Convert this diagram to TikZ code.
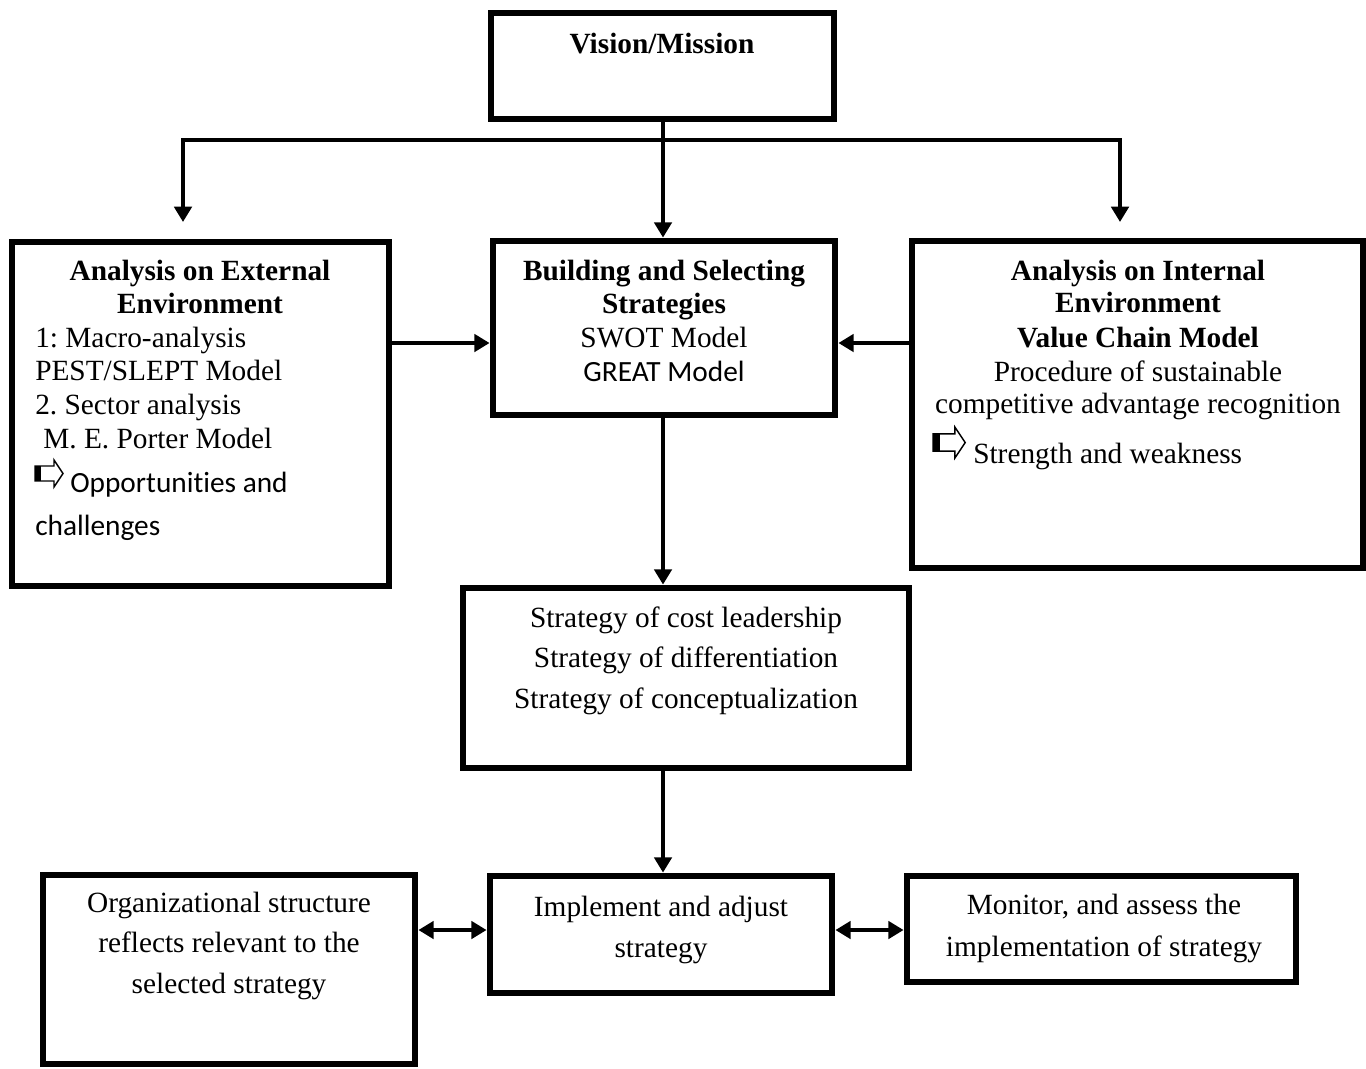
\documentclass[tikz,border=0pt]{standalone}
\usepackage{fontspec}
\setmainfont{Liberation Serif}
\newfontfamily\calibri[Ligatures=NoCommon]{Carlito}
\usetikzlibrary{arrows.meta,fit}
\frenchspacing
\begin{document}
\frenchspacing
\begin{tikzpicture}[x=0.75pt,y=-0.75pt,
  box/.style={draw, line width=5.1pt, inner sep=0pt, line join=miter},
  conn/.style={line width=3.2pt, line join=miter,
    -{Triangle[length=11.5pt 0 0,width=13pt 0 0]}},
  dconn/.style={line width=3.2pt,
    {Triangle[length=11.5pt 0 0,width=13pt 0 0]}-{Triangle[length=11.5pt 0 0,width=13pt 0 0]}},
  tx/.style={inner sep=0pt, anchor=base, font=\fontsize{22}{26}\selectfont},
  tb/.style={tx, font=\fontsize{22}{26}\selectfont\bfseries},
  tl/.style={tx, anchor=base west},
  tc/.style={tx, font=\fontsize{22}{26}\selectfont\calibri},
  hollowarrow/.pic={
    \fill (0,6) rectangle (6,21);
    \draw[line width=1.1pt, line join=miter] (0,6) -- (19,6) -- (19,0) -- (28,13.5) -- (19,27) -- (19,21) -- (0,21) -- cycle;
  }]
\useasboundingbox (0,0) rectangle (1366,1068);

% boxes
\node[box, fit={(491,13) (834,119)}] (vision) {};
\node[box, fit={(12,242) (389,586)}] (ext) {};
\node[box, fit={(493,241) (835,415)}] (build) {};
\node[box, fit={(912,241) (1363,568)}] (int) {};
\node[box, fit={(463,588) (909,768)}] (strat) {};
\node[box, fit={(490,876) (832,993)}] (impl) {};
\node[box, fit={(43,875) (415,1064)}] (org) {};
\node[box, fit={(907,876) (1296,982)}] (mon) {};

% texts
\node[tb] (v1) at (662,53) {Vision/Mission};

\node[tb] (e1) at (200,280) {Analysis on External};
\node[tb] (e2) at (200,313) {Environment};
\node[tl] (e3) at (35,347) {1: Macro-analysis};
\node[tl] (e4) at (35,380) {PEST/SLEPT Model};
\node[tl] (e5) at (35,414) {2. Sector analysis};
\node[tl] (e6) at (43,448) {M. E. Porter Model};
\pic (ea) at (35,460) {hollowarrow};
\node[tc, anchor=base west] (e7) at (70,492) {Opportunities and};
\node[tc, anchor=base west] (e8) at (35,535) {challenges};

\node[tb] (b1) at (664,280) {Building and Selecting};
\node[tb] (b2) at (664,313) {Strategies};
\node[tx] (b3) at (664,347) {SWOT Model};
\node[tc] (b4) at (664,381) {GREAT Model};

\node[tb] (i1) at (1138,280) {Analysis on Internal};
\node[tb] (i2) at (1138,312) {Environment};
\node[tb] (i3) at (1138,347) {Value Chain Model};
\node[tx] (i4) at (1138,381) {Procedure of sustainable};
\node[tx] (i5) at (1138,413) {competitive advantage recognition};
\pic[scale=1.15] (ia) at (933,427) {hollowarrow};
\node[tl] (i6) at (973,463) {Strength and weakness};

\node[tx] (s1) at (686,627) {Strategy of cost leadership};
\node[tx] (s2) at (686,667) {Strategy of differentiation};
\node[tx] (s3) at (686,708) {Strategy of conceptualization};

\node[tx] (m1) at (661,916) {Implement and adjust};
\node[tx] (m2) at (661,957) {strategy};

\node[tx] (o1) at (229,912) {Organizational structure};
\node[tx] (o2) at (229,952) {reflects relevant to the};
\node[tx] (o3) at (229,993) {selected strategy};

\node[tx] (n1) at (1104,914) {Monitor, and assess the};
\node[tx] (n2) at (1104,956) {implementation of strategy};

% connectors
\coordinate (dl) at (183,222);
\coordinate (hl) at (183,140);
\coordinate (hr) at (1120,140);
\coordinate (dr) at (1120,222);
\coordinate (ymid) at (0,343);
\coordinate (ylow) at (0,930);
\coordinate (xc) at (663,0);

\draw[dconn, line join=miter] (dl) -- (hl) -- (hr) -- (dr);
\draw[conn] (vision.south -| xc) -- (build.north -| xc);
\draw[conn] (ymid -| ext.east) -- (ymid -| build.west);
\draw[conn] (ymid -| int.west) -- (ymid -| build.east);
\draw[conn] (build.south -| xc) -- (strat.north -| xc);
\draw[conn] (strat.south -| xc) -- (impl.north -| xc);
\draw[dconn] (ylow -| org.east) -- (ylow -| impl.west);
\draw[dconn] (ylow -| impl.east) -- (ylow -| mon.west);
\end{tikzpicture}
\end{document}
